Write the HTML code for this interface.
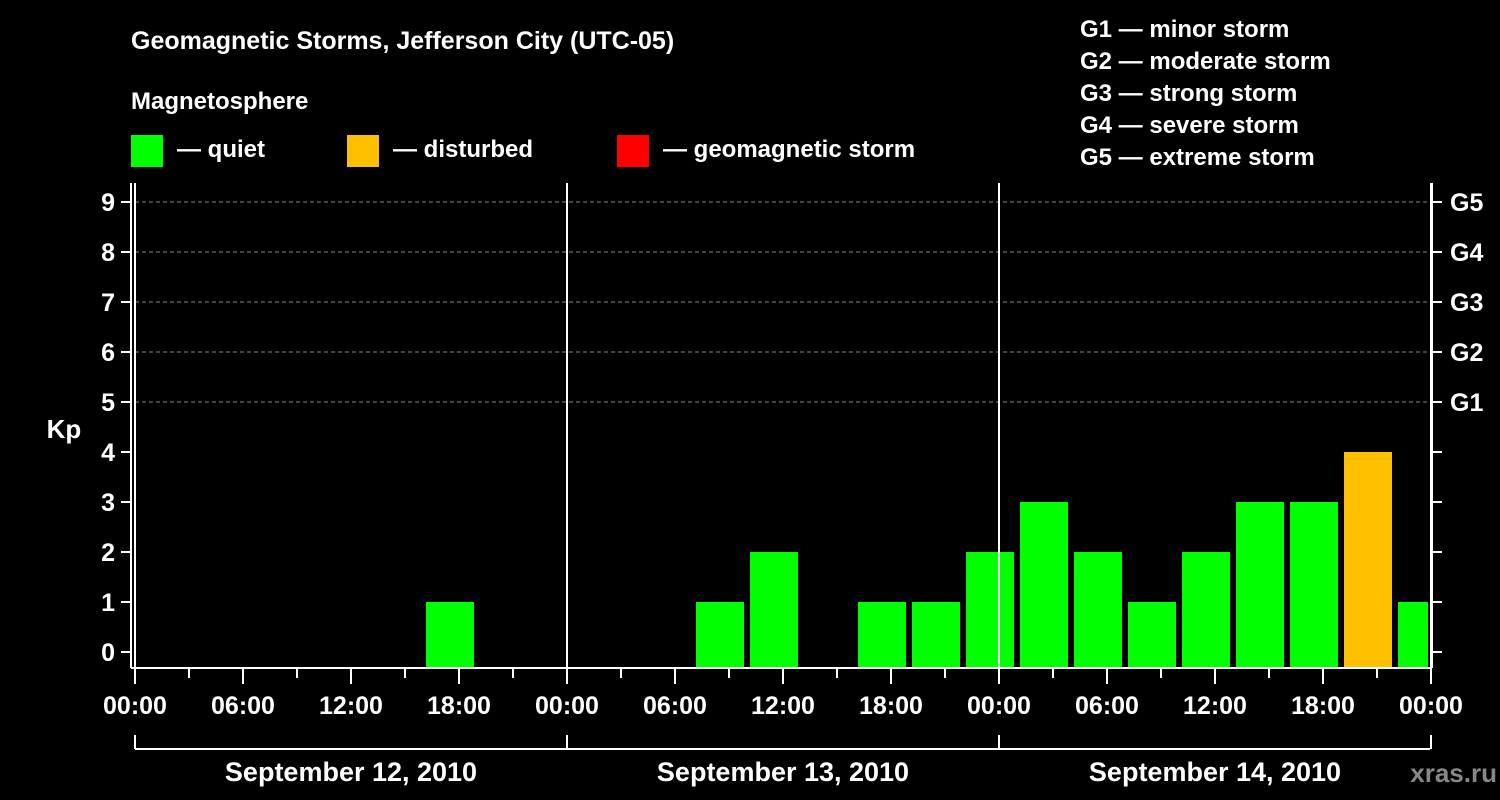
<!DOCTYPE html>
<html><head><meta charset="utf-8"><style>
body{margin:0;background:#000;}
svg{display:block;font-family:"Liberation Sans",Arial,sans-serif;font-weight:bold;}
</style></head><body>
<svg id="c" width="1500" height="800" viewBox="0 0 1500 800">
<rect width="1500" height="800" fill="#000"/>
<text x="131" y="49" fill="#fff" font-size="25">Geomagnetic Storms, Jefferson City (UTC-05)</text>
<text x="131" y="109" fill="#fff" font-size="24">Magnetosphere</text>
<g><rect x="131" y="135" width="32" height="32" fill="#00ff00"/><text x="177" y="157" fill="#fff" font-size="24">— quiet</text></g>
<g><rect x="347" y="135" width="32" height="32" fill="#ffc000"/><text x="393" y="157" fill="#fff" font-size="24">— disturbed</text></g>
<g><rect x="617" y="135" width="32" height="32" fill="#ff0000"/><text x="663" y="157" fill="#fff" font-size="24">— geomagnetic storm</text></g>
<g fill="#fff" font-size="24">
<text x="1080" y="37">G1 — minor storm</text>
<text x="1080" y="69">G2 — moderate storm</text>
<text x="1080" y="101">G3 — strong storm</text>
<text x="1080" y="133">G4 — severe storm</text>
<text x="1080" y="165">G5 — extreme storm</text>
</g>
<text x="64" y="438" fill="#fff" font-size="26" text-anchor="middle">Kp</text>
<text x="1497" y="782" fill="#888" font-size="26" text-anchor="end">xras.ru</text>
<g id="g"></g>
</svg>
<script>
const days=["September 12, 2010","September 13, 2010","September 14, 2010"];
const binHours=[16,31,34,40,43,46,49,52,55,58,61,64,67,70];
const kpValues=[1,1,2,1,1,2,3,2,1,2,3,3,4,1];
const yTicks=[0,1,2,3,4,5,6,7,8,9];
const gLabels=["G1","G2","G3","G4","G5"];
const xLabels=["00:00","06:00","12:00","18:00"];
const X0=135,PXH=18,Y0=652,PXK=50,BOT=668,TOP=183,XR=1430;
const xs=h=>X0+h*PXH, ys=k=>Y0-k*PXK;
const g=document.getElementById('g');
const NS="http://www.w3.org/2000/svg";
function mk(t,a,p){const e=document.createElementNS(NS,t);for(const k in a)e.setAttribute(k,a[k]);(p||g).appendChild(e);return e;}
// grid
for(let k=5;k<=9;k++){const l=mk('line',{x1:X0,x2:XR,y1:ys(k),y2:ys(k),stroke:'#888','stroke-dasharray':'4,3','stroke-width':1});

}
// bars
binHours.forEach((h,i)=>{const v=kpValues[i];const x=xs(h)+3;const w=Math.min(48,XR-2-x);
const r=mk('rect',{x:x,y:ys(v),width:w,height:BOT-ys(v),fill:v>=5?'#ff0000':(v>=4?'#ffc000':'#00ff00')});

});
// day dividers and axes
for(let d=0;d<=days.length;d++){const x=xs(d*24);const l=mk('line',{x1:x,x2:x,y1:TOP,y2:BOT,stroke:'#fff','stroke-width':2});

}
mk('line',{x1:131,x2:1432,y1:BOT,y2:BOT,stroke:'#fff','stroke-width':2});
mk('line',{x1:131,x2:131,y1:TOP,y2:BOT,stroke:'#fff','stroke-width':2});
mk('line',{x1:1432,x2:1432,y1:TOP,y2:BOT,stroke:'#fff','stroke-width':2});
yTicks.forEach(k=>{mk('line',{x1:121,x2:131,y1:ys(k),y2:ys(k),stroke:'#fff','stroke-width':2});mk('line',{x1:1432,x2:1442,y1:ys(k),y2:ys(k),stroke:'#fff','stroke-width':2});
const t=mk('text',{x:115,y:ys(k)+9,fill:'#fff','font-size':25,'text-anchor':'end'});t.textContent=k;

});
gLabels.forEach((s,i)=>{const t=mk('text',{x:1450,y:ys(5+i)+9,fill:'#fff','font-size':25});t.textContent=s;

});
for(let h=0;h<=days.length*24;h+=3){const major=h%6==0;mk('line',{x1:xs(h),x2:xs(h),y1:BOT,y2:BOT+(major?16:10),stroke:'#fff','stroke-width':2});
if(major&&(h%24==0||h%6==0)){const t=mk('text',{x:xs(h),y:714,fill:'#fff','font-size':25,'text-anchor':'middle'});t.textContent=xLabels[(h%24)/6];

}}
mk('line',{x1:X0,x2:XR,y1:749,y2:749,stroke:'#fff','stroke-width':2});
for(let d=0;d<=days.length;d++)mk('line',{x1:xs(d*24),x2:xs(d*24),y1:735,y2:749,stroke:'#fff','stroke-width':2});
days.forEach((s,d)=>{const t=mk('text',{x:xs(d*24+12),y:781,fill:'#fff','font-size':27,'text-anchor':'middle'});t.textContent=s;

});
</script>
</body></html>
